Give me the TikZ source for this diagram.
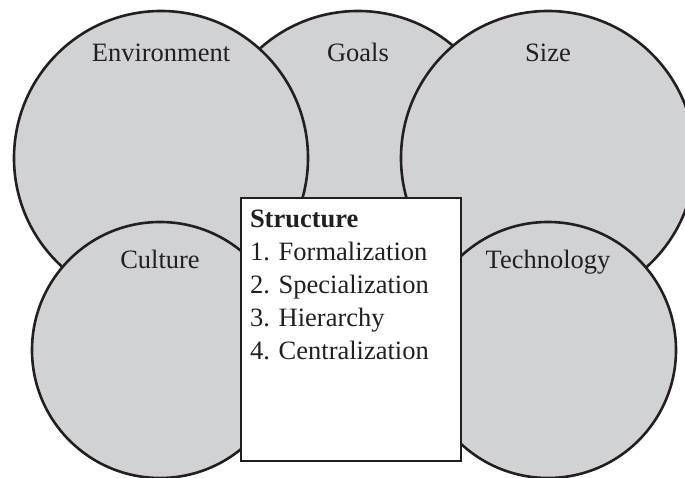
\documentclass[tikz,border=0pt]{standalone}
\usepackage{fontspec}
\setmainfont{Liberation Serif}
\usetikzlibrary{positioning}
\definecolor{factorgray}{HTML}{D1D2D4}
\definecolor{inkline}{HTML}{231F20}

\begin{document}
\begin{tikzpicture}[x = 1pt, y = 1pt, line width = 2.6pt, every node/.style = {font = \fontsize{26.5}{33}\selectfont, text = inkline}, factor/.style = {circle, draw = inkline, fill = factorgray, inner sep = 0pt}, big/.style = {factor, minimum size = 294pt}, small/.style = {factor, minimum size = 256pt}, structbox/.style = {draw = inkline, fill = white, minimum width = 220pt, minimum height = 263pt, inner sep = 0pt}, factorlabel/.style = {anchor = base, inner sep = 0pt}]
        \useasboundingbox (0,0) rectangle (685,478);
        \node[big] (goals) at (358,320) {};
        \node[big] (environment) at (161,320) {};
        \node[big] (size) at (548,320) {};
        \node[small] (culture) at (160,128) {};
        \node[small] (technology) at (548,128) {};
        \node[structbox] (structure) at (351,148.5) {};
        \node[factorlabel] at ([yshift = -52pt]environment.north) {Environment};
        \node[factorlabel] at ([yshift = -52pt]goals.north) {Goals};
        \node[factorlabel] at ([yshift = -52pt]size.north) {Size};
        \node[factorlabel] at ([yshift = -48pt]culture.north) {Culture};
        \node[factorlabel] at ([yshift = -48pt]technology.north) {Technology};
        \node[anchor = north west, align = left, inner sep = 0pt] (items) at ([xshift = 9pt, yshift = -12pt]structure.north west) {\textbf{Structure}\\1. Formalization\\2. Specialization\\3. Hierarchy\\4. Centralization};
    \end{tikzpicture}
\end{document}
